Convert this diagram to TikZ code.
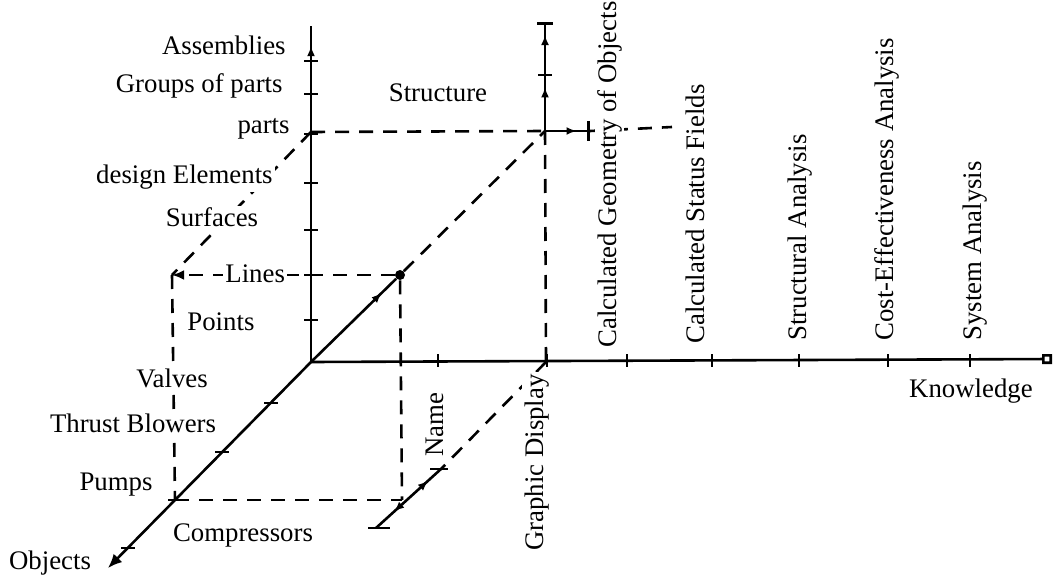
\documentclass[tikz,border=0pt]{standalone}
\usepackage{fontspec}
\setmainfont{Liberation Serif}
\usetikzlibrary{arrows.meta,decorations.markings}
\tikzset{
  axisline/.style={line width=1.3pt},
  guide/.style={line width=1.3pt, dash pattern=on 7pt off 5pt},
  lbl/.style={font=\fontsize{13.4}{16}\selectfont, inner sep=1pt, fill=white},
  vlbl/.style={lbl, rotate=90},
  tipat/.style={postaction={decorate, decoration={markings,
    mark=at position #1 with {\arrow{Latex[length=5pt,width=4pt]}}}}},
  tipback/.style={postaction={decorate, decoration={markings,
    mark=at position #1 with {\arrowreversed{Latex[length=5pt,width=4pt]}}}}},
}
\begin{document}
\begin{tikzpicture}[x=0.5pt,y=-0.5pt]
\useasboundingbox (0,0) rectangle (1063,577);
% points of the three axes
\coordinate (O) at (311,362);
\coordinate (structEnd) at (311,26);
\coordinate (knowEnd) at (1052,359);
\coordinate (objEnd) at (108,568);
\coordinate (partsP) at (311,132);
\coordinate (linesP) at (311,275);
\coordinate (topP) at (545,131);
\coordinate (gdP) at (546,362);
\coordinate (cornerL) at (172,275);
\coordinate (pumpsP) at (175,500);
\coordinate (nameP) at (402,500);
\coordinate (geoEnd) at (545,22);
\coordinate (statEnd) at (590,131);
\coordinate (statDash) at (672,127);
\coordinate (nameTop) at (441,469);
\coordinate (nameBot) at (376,528);
\node[circle, fill, inner sep=0pt, minimum size=5pt] (dot) at (400,275) {};

% dashed guides
\draw[guide] (partsP) -- (topP);
\draw[guide] (dot) -- (topP);
\draw[guide] (partsP) -- (cornerL);
\draw[guide, -{Latex[length=6pt,width=5pt]}] (dot) -- (cornerL);
\draw[guide] (cornerL) -- (pumpsP);
\draw[guide] (pumpsP) -- (nameP);
\draw[guide] (dot) -- (nameP);
\draw[guide] (topP) -- (gdP);
\draw[guide] (gdP) -- (nameTop);
\draw[guide] (statEnd) -- (statDash);

% labels
\node[lbl, anchor=base east] (assem) at (288,55) {Assemblies};
\node[lbl, anchor=base east] (groups) at (285,93) {Groups of parts};
\node[lbl, anchor=base east] (parts) at (292,134) {parts};
\node[lbl, anchor=base east] (design) at (275,184) {design Elements};
\node[lbl, anchor=base] (surf) at (212,227) {Surfaces};
\node[lbl, anchor=base west] (lines) at (223,282) {Lines};
\node[lbl, anchor=base west] (points) at (185,330) {Points};
\node[lbl, anchor=base] (valves) at (172,387) {Valves};
\node[lbl, anchor=base] (thrust) at (133,432) {Thrust Blowers};
\node[lbl, anchor=base] (pumps) at (116,490) {Pumps};
\node[lbl, anchor=base] (compr) at (243,541) {Compressors};
\node[lbl, anchor=base] (objects) at (50,569) {Objects};
\node[lbl, anchor=base] (struct) at (438,102) {Structure};
\node[lbl, anchor=base] (know) at (971,397) {Knowledge};
\node[vlbl, anchor=base east] (name) at (443,390) {Name};
\node[vlbl, anchor=base east] (graph) at (543,372) {Graphic Display};
\node[vlbl, anchor=base west] (geom) at (616,350) {Calculated Geometry of Objects};
\node[vlbl, anchor=base west] (status) at (704,346) {Calculated Status Fields};
\node[vlbl, anchor=base west] (stran) at (806,343) {Structural Analysis};
\node[vlbl, anchor=base west] (cost) at (893,343) {Cost-Effectiveness Analysis};
\node[vlbl, anchor=base west] (sysan) at (981,343) {System Analysis};

% axes
\draw[axisline, tipat=0.94] (O) -- (structEnd);
\draw[axisline, -{Square[open,length=5pt,width=5pt]}] (O) -- (knowEnd);
\draw[axisline, tipat=0.83] (O) -- (dot);
\draw[axisline, -{Latex[length=7pt,width=6pt]}] (O) -- (objEnd);
\draw[axisline, -{Bar[width=8pt]}, tipat=0.4, tipat=0.88] (topP) -- (geoEnd);
\draw[axisline, -{Bar[width=10pt]}, tipat=0.7] (topP) -- (statEnd);
\draw[axisline, tipback=0.28, tipat=0.8] (nameBot) -- (nameTop);

% ticks
\foreach \y in {61,94,134,183,230,275,320}
  \draw[axisline] (304,\y) -- (318,\y);
\foreach \x in {438,547,627,712,799,888,970}
  \draw[axisline] (\x,354) -- (\x,367);
\foreach \x/\y in {271/403,222/452,175/500,128/548}
  \draw[axisline] (\x-7,\y) -- (\x+7,\y);
\draw[axisline] (538,75) -- (552,75);
\draw[axisline] (368,528) -- (390,528);
\draw[axisline] (430,469) -- (448,469);
\end{tikzpicture}
\end{document}
